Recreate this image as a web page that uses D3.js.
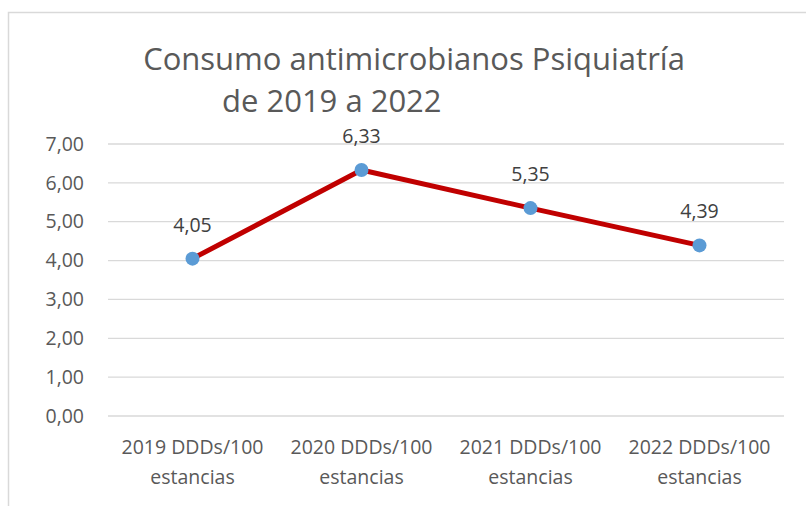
<head>
    <meta charset="utf-8"/>
    <script src="https://d3js.org/d3.v7.min.js"></script>
    <style>
        body { margin: 0; background: #fff; }
        text { font-family: "Open Sans", "Noto Sans", sans-serif; fill: #595959; }
    </style>
</head>
<body>
    <svg id="chart" width="806" height="506"></svg>
    <script>
        // data
        let categories = ["2019 DDDs/100 estancias", "2020 DDDs/100 estancias", "2021 DDDs/100 estancias", "2022 DDDs/100 estancias"];
        let values = [4.05, 6.33, 5.35, 4.39];
        let yTicks = [0, 1, 2, 3, 4, 5, 6, 7];
        let titleLines = ["Consumo antimicrobianos Psiquiatría", "de 2019 a 2022"];

        let svg = d3.select("svg#chart");
        let fmt = v => d3.format(".2f")(v).replace(".", ",");

        // chart frame
        svg.append("path")
            .attr("d", "M8.5,506 L8.5,12.5 L806,12.5")
            .style("fill", "none")
            .style("stroke", "#d9d9d9")
            .style("stroke-width", 1.5);

        let xScale = d3.scalePoint().domain(categories).range([108, 784]).padding(0.5);
        let yScale = d3.scaleLinear().domain([0, 7]).range([416, 144]);

        // gridlines
        yTicks.forEach(function(t) {
            svg.append("line")
                .attr("x1", 108)
                .attr("x2", 784)
                .attr("y1", yScale(t))
                .attr("y2", yScale(t))
                .style("stroke", "#d9d9d9")
                .style("stroke-width", 1.3);
        });

        // y axis labels
        let yAxis = d3.axisLeft(yScale).tickValues(yTicks).tickFormat(fmt).tickSize(0).tickPadding(24);
        let gy = svg.append("g").attr("transform", "translate(108,0)").call(yAxis);
        gy.select(".domain").remove();
        gy.selectAll("text").style("font-size", "19.5px").style("fill", "#595959")
            .style("font-family", "'Open Sans', sans-serif");

        // x axis labels (two lines)
        categories.forEach(function(c) {
            let parts = c.split(" ");
            let t = svg.append("text")
                .attr("text-anchor", "middle")
                .style("font-size", "19.5px");
            t.append("tspan").attr("x", xScale(c)).attr("y", 454).text(parts[0] + " " + parts[1]);
            t.append("tspan").attr("x", xScale(c)).attr("y", 484).text(parts[2]);
        });

        // line
        let line = d3.line().x((d, i) => xScale(categories[i])).y(d => yScale(d));
        svg.append("path")
            .datum(values)
            .attr("d", line)
            .style("fill", "none")
            .style("stroke", "#c00000")
            .style("stroke-width", 5)
            .style("stroke-linejoin", "round");

        values.forEach(function(v, i) {
            svg.append("circle")
                .attr("r", 7)
                .attr("cx", xScale(categories[i]))
                .attr("cy", yScale(v))
                .style("fill", "#5b9bd5");
            svg.append("text")
                .text(fmt(v))
                .attr("text-anchor", "middle")
                .attr("x", xScale(categories[i]))
                .attr("y", yScale(v) - 27)
                .style("font-size", "19.5px")
                .style("fill", "#404040");
        });

        // title
        svg.append("text")
            .text(titleLines[0])
            .attr("text-anchor", "middle")
            .attr("x", 414)
            .attr("y", 70)
            .style("font-size", "31px");
        svg.append("text")
            .text(titleLines[1])
            .attr("x", 222)
            .attr("y", 112)
            .style("font-size", "31px");
    </script>
</body>
